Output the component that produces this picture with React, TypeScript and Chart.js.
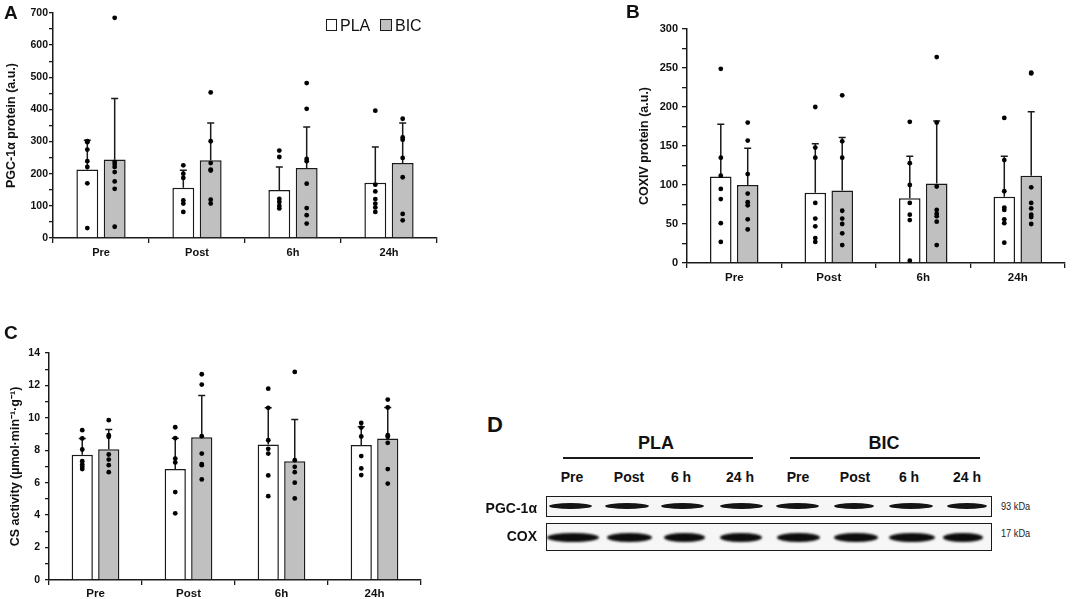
import { useEffect, useRef, type FC } from 'react';
import { Chart, registerables, type Plugin } from 'chart.js';

Chart.register(...registerables);
Chart.defaults.font.family = "'Liberation Sans', Arial, sans-serif";

const timePoints = ['Pre', 'Post', '6h', '24h'];
const groups = ['PLA', 'BIC'];

// A: PGC-1α protein (a.u.)
const pgcPlaMean = [213, 156, 149, 172];
const pgcBicMean = [244, 242, 218, 233];
const pgcPlaSd = [91, 55, 72, 111];
const pgcBicSd = [190, 116, 127, 125];
const pgcPlaDots = [
  [301, 298, 275, 239, 221, 170, 31],
  [226, 200, 187, 117, 107, 81],
  [272, 252, 122, 112, 100, 92],
  [396, 166, 145, 121, 107, 95, 81],
];
const pgcBicDots = [
  [685, 237, 230, 221, 205, 176, 153, 35],
  [453, 301, 233, 213, 210, 119, 107],
  [482, 402, 246, 239, 169, 93, 71, 45],
  [371, 313, 306, 249, 189, 75, 55],
];

// B: COXIV protein (a.u.)
const coxPlaMean = [111, 90, 83, 85];
const coxBicMean = [100, 93, 102, 112];
const coxPlaSd = [67, 63, 54, 52];
const coxBicSd = [47, 68, 80, 82];
const coxPlaDots = [
  [249, 135, 112, 95, 82, 51, 27],
  [200, 148, 135, 77, 57, 47, 32, 27],
  [181, 128, 100, 77, 62, 55, 3],
  [186, 132, 92, 71, 68, 56, 51, 26],
];
const coxBicDots = [
  [180, 157, 114, 89, 78, 74, 56, 43],
  [215, 156, 135, 67, 57, 50, 38, 23],
  [264, 180, 98, 68, 63, 60, 53, 23],
  [244, 243, 97, 77, 70, 62, 59, 50],
];

// C: CS activity
const csPlaMean = [7.72, 6.84, 8.36, 8.32];
const csBicMean = [8.07, 8.81, 7.33, 8.73];
const csPlaSd = [1.01, 1.91, 2.26, 1.13];
const csBicSd = [1.21, 2.57, 2.57, 1.91];
const csPlaDots = [
  [9.24, 8.73, 8.05, 7.33, 7.13, 6.98, 6.84],
  [9.42, 8.75, 7.49, 7.25, 5.42, 4.11],
  [11.8, 10.62, 8.62, 8.09, 7.8, 6.45, 5.17],
  [9.69, 9.4, 8.85, 7.64, 6.88, 6.47],
];
const csBicDots = [
  [9.86, 8.93, 8.83, 7.74, 7.43, 7.08, 6.65],
  [12.69, 12.05, 8.87, 7.8, 7.15, 7.08, 6.2],
  [12.83, 7.39, 6.98, 6.65, 6.0, 5.03],
  [11.13, 10.64, 8.93, 8.83, 8.46, 6.84, 5.95],
];

// D: western blot
const blotLanes = ['Pre', 'Post', '6 h', '24 h', 'Pre', 'Post', '6 h', '24 h'];
const blotRows = ['PGC-1α', 'COX'];
const blotWeights = ['93 kDa', '17 kDa'];

const ink = '#1a1a1a';
const bicGrey = '#c0c0c0';

interface PanelData {
  readonly yMax: number;
  readonly yStep: number;
  readonly yTitle: string;
  readonly means: readonly number[][];
  readonly sds: readonly number[][];
  readonly dots: readonly number[][][];
}

interface PanelBox {
  readonly left: number;
  readonly top: number;
  readonly width: number;
  readonly height: number;
  readonly areaLeft: number;
  readonly areaRight: number;
  readonly areaTop: number;
  readonly areaBottom: number;
  readonly yFont: number;
  readonly xFont: number;
  readonly titlePad: number;
  readonly yTickLen: number;
  readonly yTickPad: number;
  readonly xPad: number;
}

const panelA: PanelData = {
  yMax: 700, yStep: 100, yTitle: 'PGC-1α protein (a.u.)',
  means: [pgcPlaMean, pgcBicMean], sds: [pgcPlaSd, pgcBicSd], dots: [pgcPlaDots, pgcBicDots],
};
const panelB: PanelData = {
  yMax: 300, yStep: 50, yTitle: 'COXIV protein (a.u.)',
  means: [coxPlaMean, coxBicMean], sds: [coxPlaSd, coxBicSd], dots: [coxPlaDots, coxBicDots],
};
const panelC: PanelData = {
  yMax: 14, yStep: 2, yTitle: 'CS activity (µmol·min⁻¹·g⁻¹)',
  means: [csPlaMean, csBicMean], sds: [csPlaSd, csBicSd], dots: [csPlaDots, csBicDots],
};

const boxA: PanelBox = {
  left: 0, top: 0, width: 445, height: 262, areaLeft: 53, areaRight: 437, areaTop: 13, areaBottom: 238,
  yFont: 10.5, xFont: 11, titlePad: 4, yTickLen: 4, yTickPad: 1, xPad: 3,
};
const boxB: PanelBox = {
  left: 600, top: 0, width: 472, height: 292, areaLeft: 87, areaRight: 465, areaTop: 29, areaBottom: 263,
  yFont: 11, xFont: 11.5, titlePad: 37, yTickLen: 5, yTickPad: 4, xPad: 3,
};
const boxC: PanelBox = {
  left: 0, top: 320, width: 460, height: 282, areaLeft: 49, areaRight: 421, areaTop: 33, areaBottom: 260,
  yFont: 10.5, xFont: 11.5, titlePad: 8, yTickLen: 4, yTickPad: 5, xPad: 2,
};

// error bars (upper SD) and individual points on top of each bar
const barExtras: Plugin<'bar'> = {
  id: 'barExtras',
  afterDatasetsDraw(chart) {
    const { ctx } = chart;
    const y = chart.scales.y;
    chart.data.datasets.forEach((ds, di) => {
      const extra = ds as unknown as { sd: number[]; dots: number[][] };
      const meta = chart.getDatasetMeta(di);
      meta.data.forEach((bar, i) => {
        const mean = ds.data[i] as number;
        const x = bar.x;
        const y0 = y.getPixelForValue(mean);
        const y1 = y.getPixelForValue(mean + extra.sd[i]);
        ctx.save();
        ctx.strokeStyle = ink;
        ctx.lineWidth = 1.5;
        ctx.beginPath();
        ctx.moveTo(x, y0);
        ctx.lineTo(x, y1);
        ctx.moveTo(x - 3.5, y1);
        ctx.lineTo(x + 3.5, y1);
        ctx.stroke();
        ctx.fillStyle = '#000';
        for (const v of extra.dots[i] ?? []) {
          ctx.beginPath();
          ctx.arc(x, y.getPixelForValue(v), 2.4, 0, Math.PI * 2);
          ctx.fill();
        }
        ctx.restore();
      });
    });
  },
};

const BarPanel: FC<{ readonly data: PanelData; readonly box: PanelBox }> = ({ data, box }) => {
  const canvasRef = useRef<HTMLCanvasElement>(null);

  useEffect(() => {
    if (canvasRef.current === null) return undefined;
    const chart = new Chart(canvasRef.current, {
      type: 'bar',
      data: {
        labels: timePoints,
        datasets: groups.map((g, gi) => ({
          label: g,
          data: data.means[gi],
          sd: data.sds[gi],
          dots: data.dots[gi],
          backgroundColor: gi === 0 ? '#ffffff' : bicGrey,
          borderColor: ink,
          borderWidth: 1.5,
          categoryPercentage: 0.57,
          barPercentage: 0.8,
        })) as never,
      },
      options: {
        responsive: false,
        animation: false,
        layout: { padding: { left: 0, top: box.areaTop, right: box.width - box.areaRight, bottom: 0 } },
        plugins: { legend: { display: false }, tooltip: { enabled: false } },
        scales: {
          x: {
            grid: { offset: true, drawOnChartArea: false, drawTicks: true, tickLength: 5, color: ink, lineWidth: 1.3 },
            border: { color: ink, width: 1.5 },
            ticks: { color: '#111', padding: box.xPad, font: { size: box.xFont, weight: 'bold' } },
            afterFit: (s) => { s.height = box.height - box.areaBottom; },
          },
          y: {
            min: 0,
            max: data.yMax,
            grid: { drawOnChartArea: false, drawTicks: true, tickLength: box.yTickLen, color: ink, lineWidth: 1.3 },
            border: { color: ink, width: 1.5 },
            ticks: {
              stepSize: data.yStep / 2,
              autoSkip: false,
              color: '#111',
              padding: box.yTickPad,
              font: { size: box.yFont, weight: 'bold' },
              callback: (v) => (Math.round(Number(v) * 100) % Math.round(data.yStep * 100) === 0 ? String(v) : ''),
            },
            title: {
              display: true,
              text: data.yTitle,
              color: '#111',
              padding: { top: box.titlePad, bottom: 0 },
              font: { size: 12.5, weight: 'bold' },
            },
            afterFit: (s) => { s.width = box.areaLeft; },
          },
        },
      },
      plugins: [barExtras],
    });
    return () => { chart.destroy(); };
  }, [data, box]);

  return (
    <div style={{ position: 'absolute', left: box.left, top: box.top, width: box.width, height: box.height }}>
      <canvas ref={canvasRef} width={box.width} height={box.height} />
    </div>
  );
};

const abs = (left: number, top: number, extra: React.CSSProperties = {}): React.CSSProperties => ({
  position: 'absolute', left, top, lineHeight: 1, whiteSpace: 'nowrap', ...extra,
});
const centred = (x: number, y: number, size: number, bold = true): React.CSSProperties =>
  abs(x, y, { transform: 'translate(-50%, -50%)', fontSize: size, fontWeight: bold ? 'bold' : 'normal' });

// lane spans of the blot bands [left, right]
const pgcBands = [[549, 592], [605, 649], [661, 704], [720, 763], [776, 819], [834, 874], [889, 933], [947, 987]];
const coxBands = [[547, 599], [607, 652], [664, 705], [720, 762], [777, 820], [834, 878], [889, 935], [943, 983]];
const laneCentres = [572, 629, 681, 740, 798, 855, 909, 967];

const Blot: FC = () => (
  <>
    <div style={abs(487, 414, { fontSize: 22, fontWeight: 'bold' })}>D</div>
    <div style={centred(656, 443, 18)}>{groups[0]}</div>
    <div style={centred(884, 443, 18)}>{groups[1]}</div>
    <div style={abs(563, 457, { width: 190, height: 2, background: ink })} />
    <div style={abs(790, 457, { width: 190, height: 2, background: ink })} />
    {blotLanes.map((l, i) => (
      <div key={`lane${i}`} style={centred(laneCentres[i], 477, 14)}>{l}</div>
    ))}
    {blotRows.map((r, ri) => (
      <div key={r} style={abs(0, ri === 0 ? 508 : 536, { width: 537, textAlign: 'right', fontSize: 14, fontWeight: 'bold', transform: 'translateY(-50%)' })}>{r}</div>
    ))}
    {blotWeights.map((w, wi) => (
      <div key={w} style={abs(1001, wi === 0 ? 507 : 534, { fontSize: 10, transform: 'translateY(-50%) scaleX(0.92)', transformOrigin: 'left center', color: '#222' })}>{w}</div>
    ))}
    <div style={abs(546, 496, { width: 446, height: 21, border: `1.5px solid ${ink}`, background: '#f6f6f6', boxSizing: 'border-box' })} />
    <div style={abs(546, 523, { width: 446, height: 28, border: `1.5px solid ${ink}`, background: '#f6f6f6', boxSizing: 'border-box' })} />
    {pgcBands.map(([a, b], i) => (
      <div key={`p${i}`} style={abs(a, 503, { width: b - a, height: 6, background: '#141414', borderRadius: '50%', filter: 'blur(0.7px)' })} />
    ))}
    {coxBands.map(([a, b], i) => (
      <div key={`c${i}`} style={abs(a, 532.5, { width: b - a, height: 9, background: '#0d0d0d', borderRadius: '50%', filter: 'blur(0.8px)' })} />
    ))}
  </>
);

export default function App() {
  return (
    <div style={{ position: 'fixed', left: 0, top: 0, width: 1072, height: 599, background: '#fff', overflow: 'hidden', fontFamily: "'Liberation Sans', Arial, sans-serif", color: '#111' }}>
      <BarPanel data={panelA} box={boxA} />
      <BarPanel data={panelB} box={boxB} />
      <BarPanel data={panelC} box={boxC} />
      <div style={abs(4, 2.5, { fontSize: 19, fontWeight: 'bold' })}>A</div>
      <div style={abs(626, 1.5, { fontSize: 19, fontWeight: 'bold' })}>B</div>
      <div style={abs(4, 322.5, { fontSize: 19, fontWeight: 'bold' })}>C</div>
      <div style={abs(326, 19, { width: 11, height: 12, border: `1.3px solid ${ink}`, background: '#fff', boxSizing: 'border-box' })} />
      <div style={abs(340, 17.5, { fontSize: 16 })}>{groups[0]}</div>
      <div style={abs(380, 19, { width: 12, height: 12, border: `1.3px solid ${ink}`, background: bicGrey, boxSizing: 'border-box' })} />
      <div style={abs(395, 17.5, { fontSize: 16 })}>{groups[1]}</div>
      <Blot />
    </div>
  );
}
